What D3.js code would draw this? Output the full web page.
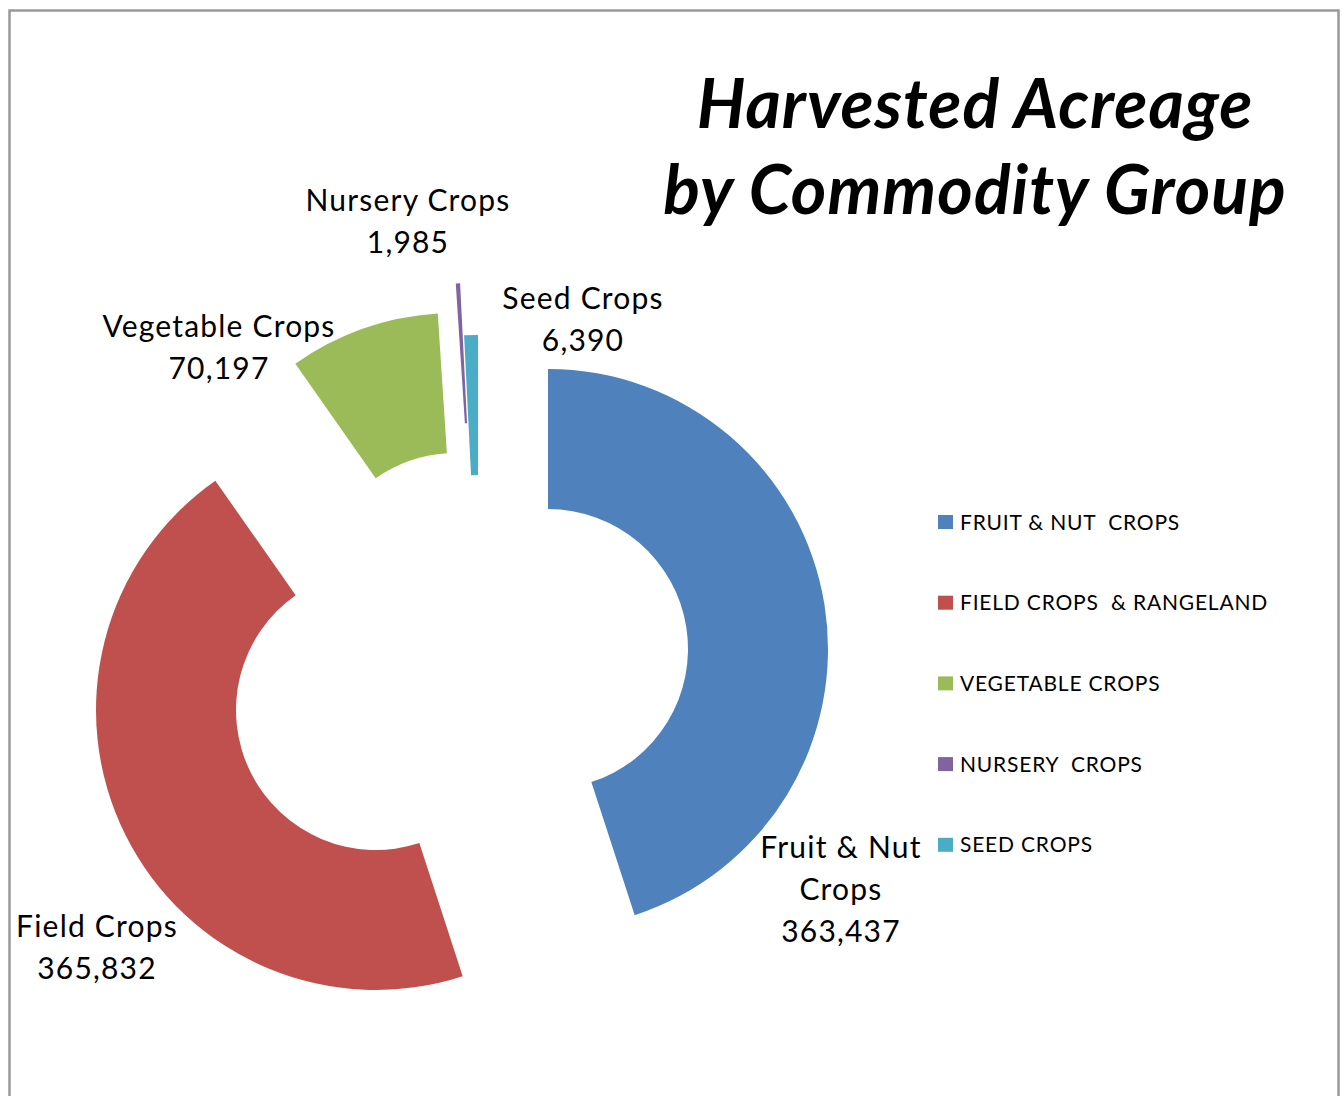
<!DOCTYPE html>
<html>
<head>
<meta charset="utf-8">
<script src="https://cdn.jsdelivr.net/npm/d3@7"></script>
<style>
  html, body { margin: 0; padding: 0; background: #fff; }
  svg { display: block; }
  text { font-family: Lato, "Open Sans", sans-serif; fill: #000; }
</style>
</head>
<body>
<div id="chart"></div>
<script>
// data
const categories = ['FRUIT & NUT  CROPS', 'FIELD CROPS  & RANGELAND', 'VEGETABLE CROPS', 'NURSERY  CROPS', 'SEED CROPS'];
const acres = [363437, 365832, 70197, 1985, 6390];
const labelNames = [['Fruit & Nut', 'Crops'], ['Field Crops'], ['Vegetable Crops'], ['Nursery Crops'], ['Seed Crops']];
const titleLines = ['Harvested Acreage', 'by Commodity Group'];

// styles / layout
const colors = ['#4F81BD', '#C0504D', '#9BBB59', '#8064A2', '#4BACC6'];
const explode = [[71, -6], [-101, 55], [-21, -62], [-3, -92], [1, -40]];
const labelPos = [[841, 858], [97, 937], [219, 337], [408, 211], [583, 309]];

const width = 1343, height = 1096;
const cx = 477, cy = 655;
const outerR = 280, innerR = 140;

const svg = d3.select('#chart').append('svg')
  .attr('width', width)
  .attr('height', height);

// chart border (bottom edge runs off the page)
svg.append('rect')
  .attr('x', 9.5).attr('y', 10.5)
  .attr('width', 1329).attr('height', 1200)
  .attr('fill', 'none')
  .attr('stroke', '#999')
  .attr('stroke-width', 2.5);

const pie = d3.pie().sort(null).value(d => d);
const arc = d3.arc().innerRadius(innerR).outerRadius(outerR);

const slices = svg.append('g')
  .attr('transform', 'translate(' + cx + ',' + cy + ')');

slices.selectAll('path')
  .data(pie(acres))
  .enter().append('path')
  .attr('transform', (d, i) => 'translate(' + explode[i][0] + ',' + explode[i][1] + ')')
  .attr('fill', (d, i) => colors[i])
  .attr('d', arc);

// data labels
const fmt = d3.format(',');
const labels = svg.append('g');
acres.forEach((v, i) => {
  const t = labels.append('text')
    .attr('text-anchor', 'middle')
    .attr('font-size', 30)
    .attr('letter-spacing', 1.2);
  const lines = labelNames[i].concat([fmt(v)]);
  lines.forEach((s, j) => {
    t.append('tspan')
      .attr('x', labelPos[i][0])
      .attr('y', labelPos[i][1] + j * 42)
      .text(s);
  });
});

// title
const title = svg.append('g');
titleLines.forEach((s, j) => {
  title.append('text')
    .attr('x', 975)
    .attr('y', 128 + j * 86)
    .attr('text-anchor', 'middle')
    .attr('font-size', 68)
    .attr('letter-spacing', 1)
    .attr('font-weight', 'bold')
    .attr('font-style', 'italic')
    .text(s);
});

// legend
const legend = svg.append('g')
  .attr('transform', 'translate(938, 522)');

const item = legend.selectAll('g')
  .data(categories)
  .enter().append('g')
  .attr('transform', (d, i) => 'translate(0,' + (i * 80.7) + ')');

item.append('rect')
  .attr('x', 0).attr('y', -7)
  .attr('width', 15).attr('height', 14)
  .attr('fill', (d, i) => colors[i]);

item.append('text')
  .attr('x', 22)
  .attr('y', 7.5)
  .attr('font-size', 21)
  .attr('letter-spacing', 0.8)
  .style('white-space', 'pre')
  .text(d => d);
</script>
</body>
</html>
